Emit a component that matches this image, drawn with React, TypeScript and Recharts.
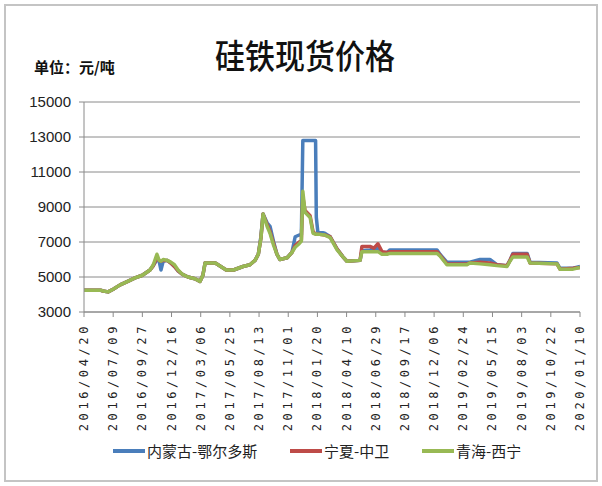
import React from 'react';
import { LineChart, Line, XAxis, YAxis, CartesianGrid } from 'recharts';

// day offset from 2016/04/20
const dayOffsets = [
  0, 45, 52, 66, 80, 99, 120, 140, 160, 181, 190, 200, 206, 211, 217, 228, 238, 248, 258, 270,
  285, 304, 318, 326, 332, 360, 375, 390, 410, 436, 455, 469, 478, 485, 491, 502, 510, 520, 529, 537,
  557, 570, 579, 590, 596, 600, 606, 620, 628, 635, 637, 641, 660, 675, 694, 710, 721, 757, 762, 784,
  795, 806, 817, 831, 839, 968, 976, 995, 1050, 1058, 1086, 1113, 1132, 1160, 1168, 1176, 1215, 1223, 1297, 1305,
  1341, 1360,
];
const neimenggu = [
  4250, 4250, 4200, 4150, 4300, 4550, 4750, 4950, 5100, 5400, 5650, 6000, 5900, 5400, 5900, 5950, 5800, 5600, 5350, 5150,
  5000, 4900, 4750, 5100, 5800, 5800, 5600, 5400, 5400, 5600, 5700, 5950, 6300, 7300, 8600, 8100, 7900, 7000, 6300, 6000,
  6100, 6400, 7300, 7400, 7400, 12800, 12800, 12800, 12800, 12800, 8400, 7600, 7500, 7300, 6600, 6150, 5900, 5950, 6500, 6550,
  6600, 6650, 6400, 6400, 6550, 6550, 6300, 5850, 5850, 5850, 6000, 6000, 5700, 5650, 5950, 6350, 6350, 5850, 5800, 5500,
  5500, 5600,
];
const ningxia = [
  4250, 4250, 4200, 4150, 4300, 4550, 4750, 4950, 5100, 5400, 5650, 6100, 5950, 5900, 5950, 5950, 5800, 5600, 5350, 5150,
  5000, 4900, 4750, 5100, 5800, 5800, 5600, 5400, 5400, 5600, 5700, 5950, 6300, 7200, 8600, 8000, 7600, 6900, 6300, 6000,
  6100, 6400, 6800, 7000, 7100, 9600, 8800, 8500, 7600, 7450, 7450, 7450, 7400, 7300, 6600, 6150, 5900, 5950, 6750, 6750,
  6650, 6900, 6450, 6400, 6450, 6450, 6250, 5750, 5750, 5800, 5850, 5800, 5700, 5650, 5950, 6300, 6300, 5800, 5750, 5450,
  5500, 5550,
];
const qinghai = [
  4250, 4250, 4200, 4150, 4300, 4550, 4750, 4950, 5100, 5400, 5700, 6300, 5950, 5900, 6000, 5950, 5850, 5700, 5400, 5150,
  5000, 4900, 4750, 5100, 5800, 5800, 5600, 5400, 5400, 5600, 5700, 5950, 6300, 7200, 8600, 7900, 7500, 6800, 6300, 6000,
  6100, 6400, 6700, 6900, 7050, 9900, 8700, 8400, 7500, 7450, 7450, 7450, 7400, 7250, 6550, 6150, 5900, 5950, 6450, 6450,
  6450, 6450, 6300, 6300, 6350, 6350, 6200, 5700, 5700, 5800, 5750, 5700, 5650, 5600, 5900, 6150, 6150, 5800, 5750, 5450,
  5450, 5550,
];
const tickLabels = [
  '2016/04/20', '2016/07/09', '2016/09/27', '2016/12/16', '2017/03/06', '2017/05/25',
  '2017/08/13', '2017/11/01', '2018/01/20', '2018/04/10', '2018/06/29', '2018/09/17',
  '2018/12/06', '2019/02/24', '2019/05/15', '2019/08/03', '2019/10/22', '2020/01/10',
];
const tickStep = 80;
const yTicks = [3000, 5000, 7000, 9000, 11000, 13000, 15000];
const seriesNames = ['内蒙古-鄂尔多斯', '宁夏-中卫', '青海-西宁'];
const seriesKeys = ['nmg', 'nx', 'qh'];
const seriesColors = ['#4A7EBB', '#BE4B48', '#98B954'];
const titleText = '硅铁现货价格';
const unitText = '单位：元/吨';

const data = dayOffsets.map((d, i) => ({
  day: d,
  nmg: neimenggu[i],
  nx: ningxia[i],
  qh: qinghai[i],
}));
const xTicks = tickLabels.map((_, i) => i * tickStep);

const XTick = (props: any) => {
  const { x, y, payload } = props;
  const idx = Math.round(payload.value / tickStep);
  return (
    <text
      x={x}
      y={y}
      transform={`rotate(-90, ${x}, ${y})`}
      textAnchor="end"
      dominantBaseline="central"
      fontFamily="'DejaVu Sans Mono', monospace"
      fontSize={12}
      letterSpacing={3.6}
      fill="#222"
    >
      {tickLabels[idx]}
    </text>
  );
};

const legendLeft = [113, 290, 422];

export default function App() {
  return (
    <div style={{ position: 'absolute', left: 0, top: 0, width: 602, height: 486, background: '#fff', overflow: 'hidden' }}>
      <div style={{ position: 'absolute', left: 4, top: 4, width: 594, height: 478, border: '2px solid #c4c4c4', boxSizing: 'border-box' }} />
      <div style={{ position: 'absolute', left: 0, width: 602, top: 34, textAlign: 'center', paddingLeft: 8, boxSizing: 'border-box', fontFamily: "'Noto Sans CJK SC', sans-serif", fontSize: 30, fontWeight: 500, color: '#111', lineHeight: '40px', transform: 'scaleY(1.12)' }}>
        {titleText}
      </div>
      <div style={{ position: 'absolute', left: 34, top: 57, fontFamily: "'Noto Sans CJK SC', sans-serif", fontSize: 15, fontWeight: 700, color: '#111', lineHeight: '20px' }}>
        {unitText}
      </div>
      <LineChart width={602} height={486} data={data} margin={{ top: 102, right: 22, bottom: 54, left: 24 }} style={{ position: 'absolute', left: 0, top: 0 }}>
        <CartesianGrid vertical={false} stroke="#8a8a8a" strokeWidth={1} />
        <XAxis
          dataKey="day"
          type="number"
          domain={[0, 1360]}
          ticks={xTicks}
          interval={0}
          height={120}
          tickSize={5}
          tickMargin={6}
          tick={<XTick />}
          stroke="#8a8a8a"
          allowDataOverflow
        />
        <YAxis
          domain={[3000, 15000]}
          ticks={yTicks}
          interval={0}
          width={60}
          tickSize={5}
          tickMargin={8}
          stroke="#8a8a8a"
          tick={{ fill: '#222', fontSize: 15, fontFamily: "'Liberation Sans', Arial, sans-serif" }}
        />
        {seriesKeys.map((k, i) => (
          <Line key={k} dataKey={k} name={seriesNames[i]} type="linear" stroke={seriesColors[i]} strokeWidth={3.5} strokeLinejoin="round" dot={false} isAnimationActive={false} />
        ))}
      </LineChart>
      {seriesNames.map((n, i) => (
        <div key={n} style={{ position: 'absolute', left: legendLeft[i], top: 441, display: 'flex', alignItems: 'center', fontFamily: "'Noto Sans CJK SC', sans-serif", fontSize: 15, color: '#222', lineHeight: '20px' }}>
          <span style={{ display: 'inline-block', width: 32, height: 4, background: seriesColors[i], marginRight: 2 }} />
          <span>{n}</span>
        </div>
      ))}
    </div>
  );
}
